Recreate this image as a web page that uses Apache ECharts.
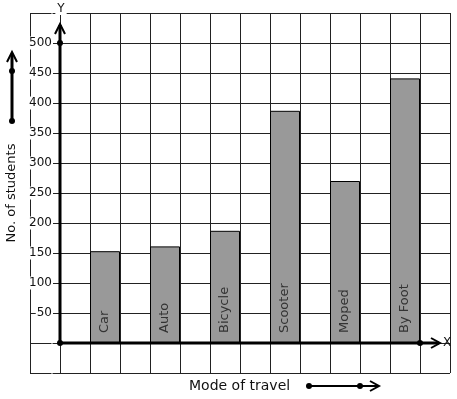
<!DOCTYPE html>
<html>
<head>
<meta charset="utf-8">
<script src="https://cdn.jsdelivr.net/npm/echarts@6/dist/echarts.min.js"></script>
<style>
html,body{margin:0;padding:0;background:#fff;}
#chart{width:457px;height:399px;}
</style>
</head>
<body>
<div id="chart"></div>
<script>
// ---- data ----
var categories = ['Car', 'Auto', 'Bicycle', 'Scooter', 'Moped', 'By Foot'];
var students = [153, 161, 187, 387, 270, 441];
var yTickLabels = [50, 100, 150, 200, 250, 300, 350, 400, 450, 500];
var xTitle = 'Mode of travel';
var yTitle = 'No. of students';

// ---- layout constants ----
var G = {left: 30, top: 13, width: 420, height: 360};
var FONT = 'DejaVu Sans';

// 14 grid columns; each category occupies every second column starting at column 2
var slots = [];
var slotValues = [];
for (var s = 0; s < 14; s++) { slots.push(''); slotValues.push('-'); }
categories.forEach(function (c, i) {
  slots[2 + 2 * i] = c;
  slotValues[2 + 2 * i] = students[i];
});

var chart = echarts.init(document.getElementById('chart'), null, {renderer: 'canvas'});

var option = {
  animation: false,
  backgroundColor: '#fff',
  grid: {left: G.left, top: G.top, width: G.width, height: G.height, containLabel: false},
  xAxis: {
    type: 'category',
    data: slots,
    boundaryGap: true,
    axisLine: {show: false},
    axisTick: {show: false, interval: 0},
    axisLabel: {show: false, interval: 0},
    splitLine: {show: true, interval: 0, lineStyle: {color: '#222', width: 1}}
  },
  yAxis: {
    type: 'value',
    min: -50, max: 550, interval: 50,
    offset: -30,
    axisLine: {show: false},
    axisTick: {show: false},
    splitLine: {show: true, lineStyle: {color: '#222', width: 1}},
    axisLabel: {
      margin: 7,
      fontFamily: FONT, fontSize: 12, color: '#111',
      backgroundColor: '#fff', padding: [1, 1, 0, 1],
      formatter: function (v) { return yTickLabels.indexOf(v) >= 0 ? String(v) : ''; }
    }
  },
  series: [{
    type: 'bar',
    data: slotValues,
    barWidth: '100%',
    itemStyle: {color: '#999999', borderColor: '#000', borderWidth: 1},
    label: {
      show: true,
      position: 'insideBottom',
      rotate: 90,
      align: 'left',
      verticalAlign: 'middle',
      distance: 10,
      fontFamily: FONT, fontSize: 13, color: '#333',
      formatter: function (p) { return slots[p.dataIndex]; }
    },
    z: 3
  }]
};
chart.setOption(option);

// ---- decorations (axes with arrows, titles) ----
var origin = chart.convertToPixel({xAxisIndex: 0, yAxisIndex: 0}, [1, 0]);
var ox = G.left + 30, oy = origin[1];
var y500 = chart.convertToPixel({yAxisIndex: 0}, 500);
var xEnd = G.left + 13 * 30;
function dot(x, y, r) { return {type: 'circle', shape: {cx: x, cy: y, r: r || 2.5}, style: {fill: '#000'}, z: 20}; }
function line(x1, y1, x2, y2, w) { return {type: 'line', shape: {x1: x1, y1: y1, x2: x2, y2: y2}, style: {stroke: '#000', lineWidth: w}, z: 20}; }
function chev(pts, w) { return {type: 'polyline', shape: {points: pts}, style: {stroke: '#000', lineWidth: w, fill: null}, z: 20}; }

var graphics = [
  line(ox, oy, ox, 25, 3),
  chev([[ox - 5, 34], [ox, 24], [ox + 5, 34]], 2),
  line(ox, oy, 439, oy, 3),
  chev([[431, oy - 5], [440, oy], [431, oy + 5]], 2),
  dot(ox, oy, 3), dot(ox, y500, 3), dot(xEnd, oy, 3),
  {type: 'text', x: ox + 1, y: 9, style: {text: 'Y', font: '12px "' + FONT + '"', fill: '#111', align: 'center', verticalAlign: 'middle', backgroundColor: '#fff', padding: [0, 2]}, z: 21},
  {type: 'text', x: 443, y: oy, style: {text: 'X', font: '12px "' + FONT + '"', fill: '#111', align: 'left', verticalAlign: 'middle'}, z: 21},
  // left decoration arrow
  line(12, 121, 12, 54, 3),
  chev([[7, 62], [12, 52], [17, 62]], 2),
  dot(12, 121, 3), dot(12, 71, 3),
  // bottom decoration arrow
  line(309, 386, 378, 386, 2),
  chev([[370, 381], [379, 386], [370, 391]], 2),
  dot(309, 386, 3), dot(360, 386, 3),
  // titles
  {type: 'text', x: 189, y: 386, style: {text: xTitle, font: '14px "' + FONT + '"', fill: '#111', align: 'left', verticalAlign: 'middle'}, z: 21},
  {type: 'text', x: 12, y: 193, rotation: Math.PI / 2, style: {text: yTitle, font: '13px "' + FONT + '"', fill: '#111', align: 'center', verticalAlign: 'middle'}, z: 21}
];
chart.setOption({graphic: {elements: graphics}});
</script>
</body>
</html>
